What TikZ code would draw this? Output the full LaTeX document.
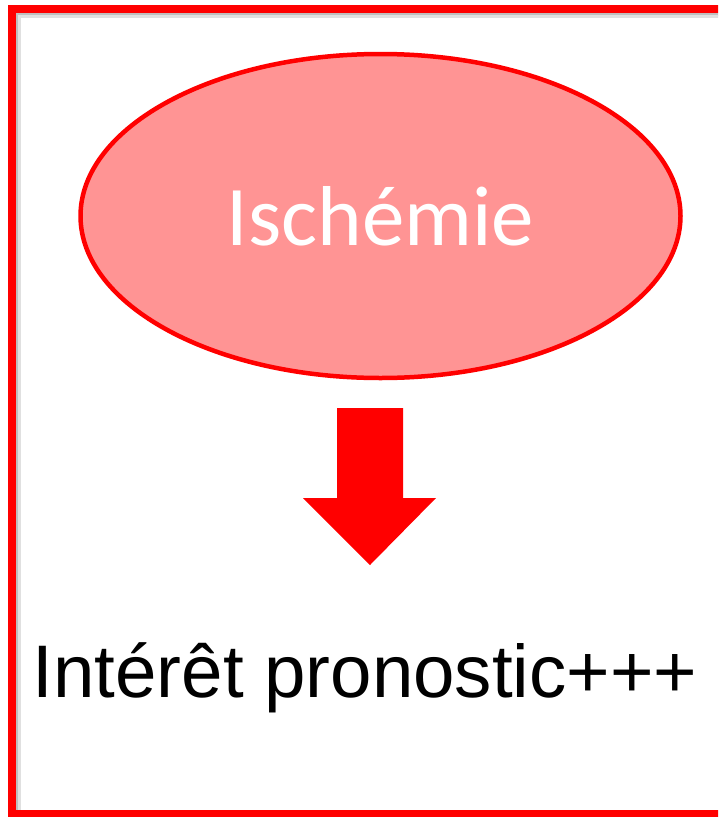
\documentclass[tikz,border=0pt]{standalone}
\usepackage{fontspec}
\setmainfont{Liberation Sans}
\newfontfamily\calibri{Carlito}
\usetikzlibrary{shapes.geometric,shadows}
\definecolor{pinkfill}{HTML}{FF9494}
\definecolor{pure}{HTML}{FF0000}
\tikzset{
  frame/.style={draw=pure, line width=8pt},
  blob/.style={ellipse, draw=pure, line width=4.5pt, fill=pinkfill, minimum width=600pt, minimum height=324pt, inner sep=0pt, text=white, font=\calibri\fontsize{85}{90}\selectfont},
  bigarrow/.style={fill=pure, draw=none},
  result/.style={font=\fontsize{74.5}{80}\selectfont, text=black, inner sep=0pt, anchor=base}
}
\begin{document}
\begin{tikzpicture}[x=1pt,y=-1pt]
\useasboundingbox (0,0) rectangle (718,817);
\clip (0,0) rectangle (718,817);
\fill[white] (0,0) rectangle (718,817);
% soft shadow
\draw[black!25, line width=3pt] (17,814) -- (17,14) -- (725,14);
\draw[black!12, line width=3pt] (19,814) -- (19,16) -- (725,16);
\draw[frame] (12,814) -- (12,9) -- (726,9);
\draw[frame] (8,814) -- (726,814);
\node[blob] (isch) at (380.5,216) {Ischémie};
\coordinate (arrowtop) at (370,408);
\fill[bigarrow] (337,408) -- (403,408) -- (403,498) -- (436,498) -- (370,565) -- (303,498) -- (337,498) -- cycle;
\node[result] (prono) at (365,697) {Intérêt pronostic+++};
\end{tikzpicture}
\end{document}
